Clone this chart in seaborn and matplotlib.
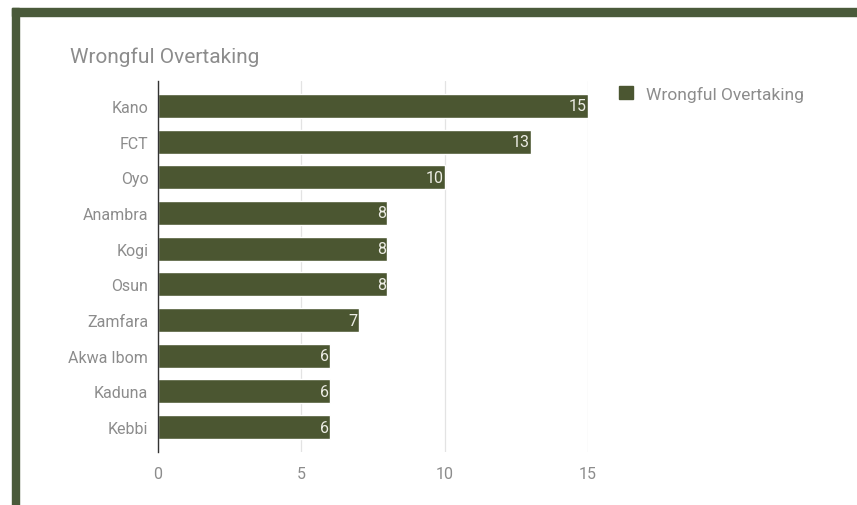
import matplotlib
matplotlib.use("Agg")
import matplotlib.pyplot as plt
import matplotlib.patches as mpatches
import seaborn as sns
import pandas as pd

title = "Wrongful Overtaking"
states = ["Kano", "FCT", "Oyo", "Anambra", "Kogi", "Osun", "Zamfara", "Akwa Ibom", "Kaduna", "Kebbi"]
values = [15, 13, 10, 8, 8, 8, 7, 6, 6, 6]
xticks = [0, 5, 10, 15]

bar_color = "#4b5631"
frame_color = "#4a5a3a"
text_color = "#8c8c8c"

sns.set_theme(style="white")
plt.rcParams["font.family"] = ["Roboto", "DejaVu Sans"]

df = pd.DataFrame({"state": states, "value": values})

fig = plt.figure(figsize=(8.57, 5.06), dpi=100)
ax = fig.add_axes([158/857, 1-453/506, (588-158)/857, (453-82)/506])

sns.barplot(data=df, x="value", y="state", color=bar_color, width=0.67,
            saturation=1, ax=ax, zorder=3)

ax.set_xlim(0, 15)
ax.set_ylim(9.7, -0.7)
ax.set_xticks(xticks)
ax.set_xticklabels([str(t) for t in xticks])
ax.xaxis.grid(True, color="#e3e3e3", linewidth=0.9, zorder=0)
ax.yaxis.grid(False)
for s in ["top", "right", "bottom"]:
    ax.spines[s].set_visible(False)
ax.spines["left"].set_color("#333333")
ax.spines["left"].set_linewidth(1)
ax.spines["left"].set_zorder(4)
ax.set_xlabel("")
ax.set_ylabel("")
ax.tick_params(axis="both", length=0, labelsize=11.5, colors=text_color)
ax.tick_params(axis="x", pad=10)
ax.tick_params(axis="y", pad=7)

for i, v in enumerate(values):
    ax.text(v - 0.05, i, str(v), ha="right", va="center", color="#ecece4",
            fontsize=11.5, zorder=5)

fig.text(70/857, 1-57/506, title, fontsize=15, color=text_color, ha="left", va="center")

handle = mpatches.Patch(color=bar_color, label=title)
fig.legend(handles=[handle], loc="upper left", bbox_to_anchor=(603/857, 1-71/506),
           frameon=False, fontsize=12.5, labelcolor=text_color, handlelength=0.8,
           handleheight=0.8, handletextpad=0.8)

# frame
fig.patches.append(mpatches.Rectangle((12/857, 1-16.5/506), 1, 7.5/506,
                                      transform=fig.transFigure, color=frame_color, zorder=10))
fig.patches.append(mpatches.Rectangle((12/857, 0), 6.5/857, 1-9/506,
                                      transform=fig.transFigure, color=frame_color, zorder=10))

fig.savefig("out.png", dpi=100)
